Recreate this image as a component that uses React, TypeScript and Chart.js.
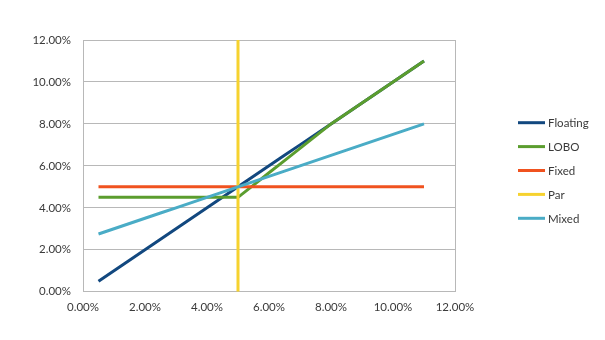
import React, { useEffect, useRef } from "react";
import { Chart, registerables } from "chart.js";

Chart.register(...registerables);

const xValues = [0.5, 1, 1.5, 2, 2.5, 3, 3.5, 4, 4.5, 5, 5.5, 6, 6.5, 7, 7.5, 8, 8.5, 9, 9.5, 10, 10.5, 11];
const floating = [0.5, 1.0, 1.5, 2.0, 2.5, 3.0, 3.5, 4.0, 4.5, 5.0, 5.5, 6.0, 6.5, 7.0, 7.5, 8.0, 8.5, 9.0, 9.5, 10.0, 10.5, 11.0];
const lobo = [4.5, 4.5, 4.5, 4.5, 4.5, 4.5, 4.5, 4.5, 4.5, 4.5, 5.08, 5.67, 6.25, 6.83, 7.42, 8.0, 8.5, 9.0, 9.5, 10.0, 10.5, 11.0];
const fixed = [5, 5, 5, 5, 5, 5, 5, 5, 5, 5, 5, 5, 5, 5, 5, 5, 5, 5, 5, 5, 5, 5];
const parX = [5, 5];
const parY = [0, 12];
const mixed = [2.75, 3.0, 3.25, 3.5, 3.75, 4.0, 4.25, 4.5, 4.75, 5.0, 5.25, 5.5, 5.75, 6.0, 6.25, 6.5, 6.75, 7.0, 7.25, 7.5, 7.75, 8.0];

const seriesNames = ["Floating", "LOBO", "Fixed", "Par", "Mixed"];
const seriesColors = ["#12487f", "#5b9d2e", "#f0521f", "#f6d22e", "#4aacc6"];

const FONT = "Lato, 'Liberation Sans', sans-serif";
const TEXT = "#3a3a3a";
const GRID = "#b8b8b8";

const pts = (xs: number[], ys: number[]) => xs.map((x, i) => ({ x, y: ys[i] }));

const legendPlugin = {
  id: "customLegend",
  afterDraw(chart: any) {
    const ctx = chart.ctx;
    const ds = chart.data.datasets;
    const x0 = 518;
    const y0 = 122.7;
    const step = 23.9;
    ctx.save();
    ctx.font = `11.5px ${FONT}`;
    ctx.textBaseline = "middle";
    ctx.textAlign = "left";
    ds.forEach((d: any, i: number) => {
      const y = y0 + i * step;
      ctx.strokeStyle = d.borderColor;
      ctx.lineWidth = 3;
      ctx.beginPath();
      ctx.moveTo(x0, y);
      ctx.lineTo(x0 + 27, y);
      ctx.stroke();
      ctx.fillStyle = TEXT;
      ctx.fillText(d.label, x0 + 30, y + 0.5);
    });
    ctx.restore();
  },
};

export default function App() {
  const ref = useRef<HTMLCanvasElement | null>(null);
  useEffect(() => {
    if (!ref.current) return;
    const ys = [floating, lobo, fixed, null, mixed];
    const datasets = seriesNames.map((name, i) => ({
      label: name,
      data: i === 3 ? pts(parX, parY) : pts(xValues, ys[i] as number[]),
      borderColor: seriesColors[i],
      backgroundColor: seriesColors[i],
      borderWidth: 3,
      pointRadius: 0,
      pointHoverRadius: 0,
      tension: 0,
      fill: false,
      order: 5 - i,
    }));
    const chart = new Chart(ref.current, {
      type: "line",
      data: { datasets },
      options: {
        responsive: false,
        animation: false,
        layout: { padding: { left: 0, right: 150, top: 40, bottom: 0 } },
        plugins: {
          legend: { display: false },
          tooltip: { enabled: false },
        },
        scales: {
          x: {
            type: "linear",
            min: 0,
            max: 12,
            ticks: {
              stepSize: 2,
              padding: 9,
              color: TEXT,
              font: { family: FONT, size: 11.5 },
              callback: (v: any) => Number(v).toFixed(2) + "%",
            },
            grid: {
              drawTicks: false,
              color: (c: any) => (c.index === 0 || c.index === 6 ? GRID : "rgba(0,0,0,0)"),
            },
            border: { display: true, color: GRID },
            afterFit: (s: any) => {
              s.height = 48.3;
            },
          },
          y: {
            min: 0,
            max: 12,
            ticks: {
              stepSize: 2,
              padding: 12,
              color: TEXT,
              font: { family: FONT, size: 11.5 },
              callback: (v: any) => Number(v).toFixed(2) + "%",
            },
            grid: { drawTicks: false, color: GRID },
            border: { display: true, color: GRID },
            afterFit: (s: any) => {
              s.width = 83;
            },
          },
        },
      },
      plugins: [legendPlugin],
    } as any);
    return () => chart.destroy();
  }, []);
  return (
    <div style={{ position: "absolute", left: 0, top: 0, width: 605, height: 340, background: "#fff" }}>
      <canvas ref={ref} width={605} height={340} style={{ display: "block" }} />
    </div>
  );
}
